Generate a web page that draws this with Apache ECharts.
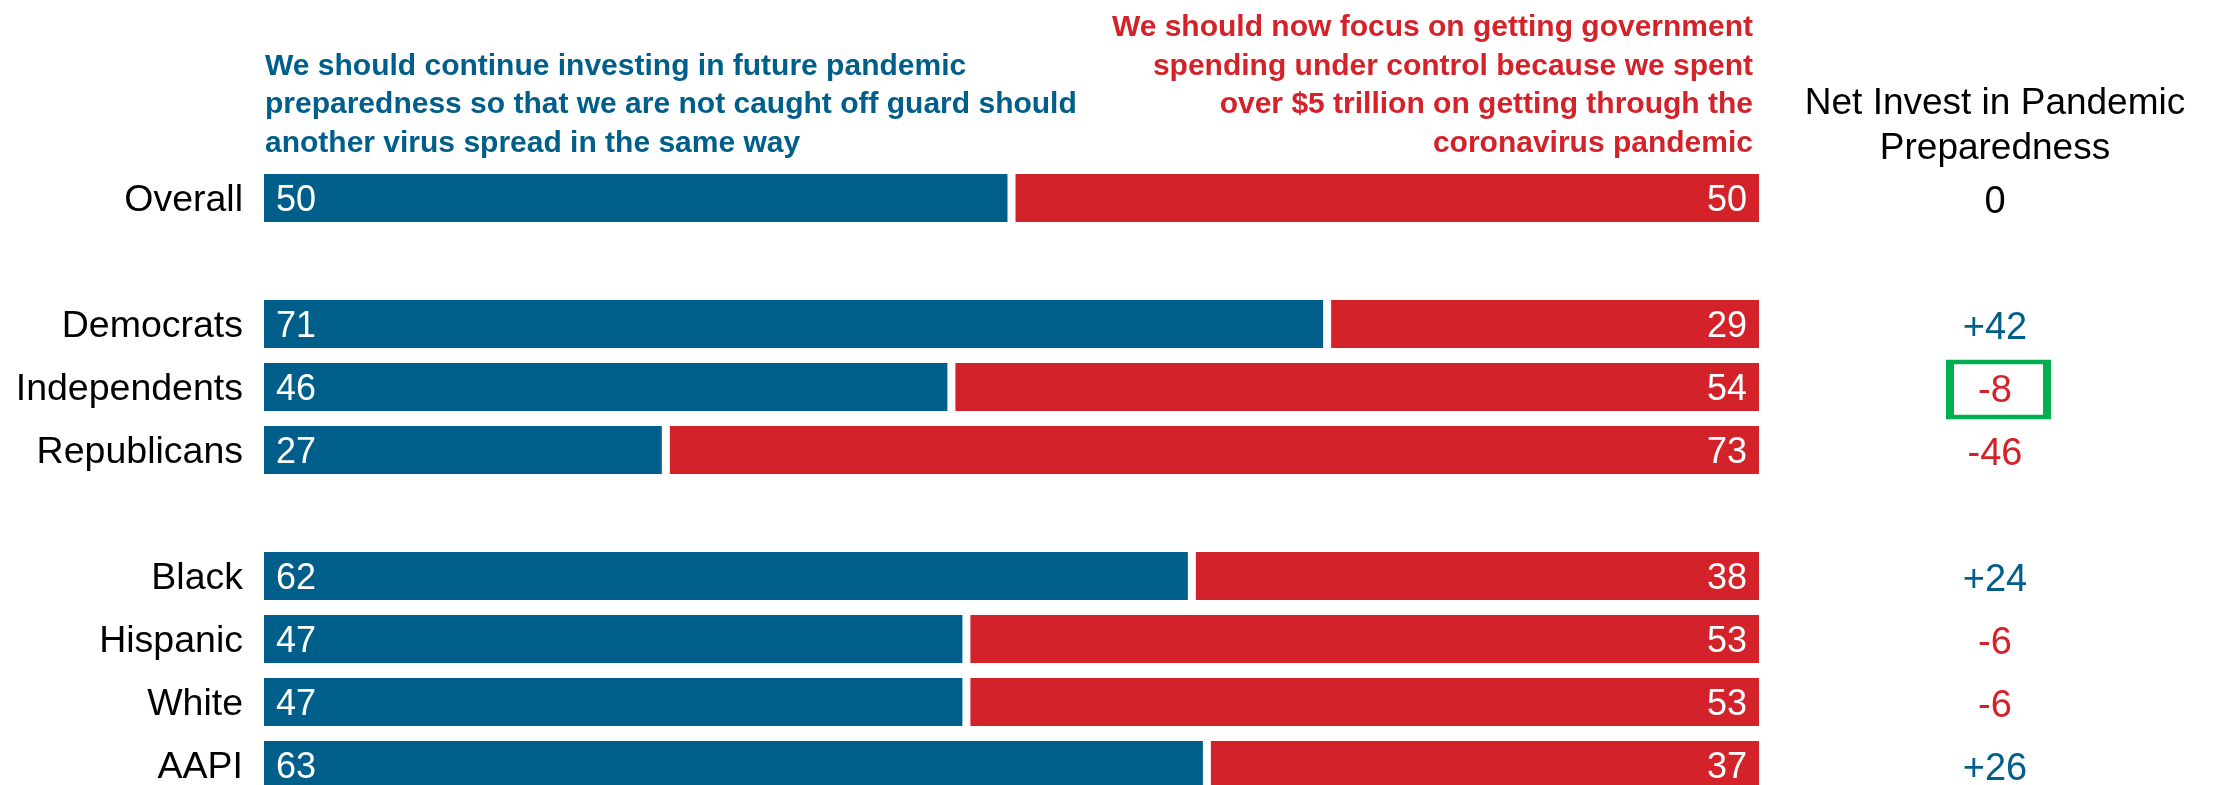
<!DOCTYPE html>
<html><head><meta charset="utf-8">
<script src="https://cdn.jsdelivr.net/npm/echarts@6/dist/echarts.min.js"></script>
<style>html,body{margin:0;padding:0;background:#fff}#c{width:2217px;height:785px}</style>
</head><body><div id="c"></div>
<script>
const categories = ['Overall','','Democrats','Independents','Republicans','','Black','Hispanic','White','AAPI'];
const investValues = [50,null,71,46,27,null,62,47,47,63];
const controlValues = [50,null,29,54,73,null,38,53,53,37];
const highlighted = ['Independents'];
const investHeader = ['We should continue investing in future pandemic','preparedness so that we are not caught off guard should','another virus spread in the same way'];
const controlHeader = ['We should now focus on getting government','spending under control because we spent','over $5 trillion on getting through the','coronavirus pandemic'];
const netHeader = ['Net Invest in Pandemic','Preparedness'];

const BLUE = '#005e8a', RED = '#d32229', GREEN = '#00b050';
const FONT = "'Liberation Sans',Arial,sans-serif";

const netData = [];
categories.forEach((c, i) => {
  if (investValues[i] == null) return;
  const n = investValues[i] - controlValues[i];
  netData.push({ value: [0.5, i], net: n,
    label: { color: n > 0 ? BLUE : n < 0 ? RED : '#000' } });
});
const boxData = highlighted.map(h => ({ value: [0.5, categories.indexOf(h)] }));

const graphics = [];
investHeader.forEach((t, k) => graphics.push({
  type: 'text', x: 265, y: 66.5 + k * 38.5,
  style: { text: t, fill: BLUE, font: 'bold 30px ' + FONT, textAlign: 'left', textVerticalAlign: 'middle', align: 'left', verticalAlign: 'middle' }
}));
controlHeader.forEach((t, k) => graphics.push({
  type: 'text', x: 1753, y: 28 + k * 38.5,
  style: { text: t, fill: RED, font: 'bold 30px ' + FONT, textAlign: 'right', textVerticalAlign: 'middle', align: 'right', verticalAlign: 'middle' }
}));
netHeader.forEach((t, k) => graphics.push({
  type: 'text', x: 1995, y: 104 + k * 45,
  style: { text: t, fill: '#000', font: '37px ' + FONT, textAlign: 'center', textVerticalAlign: 'middle', align: 'center', verticalAlign: 'middle' }
}));

const chart = echarts.init(document.getElementById('c'), null, { renderer: 'canvas' });
chart.setOption({
  animation: false,
  backgroundColor: '#fff',
  graphic: graphics,
  grid: [
    { left: 260, width: 1503, top: 166.5, height: 630, containLabel: false, outerBoundsMode: 'none' },
    { left: 1900, width: 190, top: 166.5, height: 630, containLabel: false, outerBoundsMode: 'none' }
  ],
  xAxis: [
    { gridIndex: 0, type: 'value', min: 0, max: 100, show: false },
    { gridIndex: 1, type: 'value', min: 0, max: 1, show: false }
  ],
  yAxis: [
    { gridIndex: 0, type: 'category', data: categories, inverse: true,
      axisLine: { show: false }, axisTick: { show: false }, splitLine: { show: false },
      axisLabel: { margin: 17, formatter: v => '{a|' + v + '}',
        rich: { a: { fontSize: 37.5, fontFamily: FONT, color: '#000', padding: [6, 0, 0, 0] } } } },
    { gridIndex: 1, type: 'category', data: categories, inverse: true, show: false }
  ],
  series: [
    { type: 'bar', name: 'invest', stack: 'a', xAxisIndex: 0, yAxisIndex: 0, barWidth: 56,
      data: investValues.map(v => v == null ? '-' : v),
      itemStyle: { color: BLUE, borderColor: '#fff', borderWidth: 4 },
      label: { show: true, position: 'insideLeft', distance: 16, offset: [0, 3], color: '#fff', fontSize: 36, fontFamily: FONT } },
    { type: 'bar', name: 'control', stack: 'a', xAxisIndex: 0, yAxisIndex: 0, barWidth: 56,
      data: controlValues.map(v => v == null ? '-' : v),
      itemStyle: { color: RED, borderColor: '#fff', borderWidth: 4 },
      label: { show: true, position: 'insideRight', distance: 16, offset: [0, 3], color: '#fff', fontSize: 36, fontFamily: FONT } },
    { type: 'scatter', xAxisIndex: 1, yAxisIndex: 1, symbol: 'rect', symbolSize: [97, 55], symbolOffset: [3.5, 2.5],
      data: boxData, silent: true,
      itemStyle: { color: 'rgba(0,0,0,0)', borderColor: GREEN, borderWidth: 6, opacity: 1 } },
    { type: 'scatter', xAxisIndex: 1, yAxisIndex: 1, symbolSize: 1, silent: true,
      data: netData,
      itemStyle: { color: 'rgba(0,0,0,0)', opacity: 1 },
      label: { show: true, position: 'inside', offset: [0, 5], fontSize: 38, fontFamily: FONT,
        formatter: p => { const n = p.data.net; return n > 0 ? '+' + n : String(n); } } }
  ]
});
</script>
</body></html>
